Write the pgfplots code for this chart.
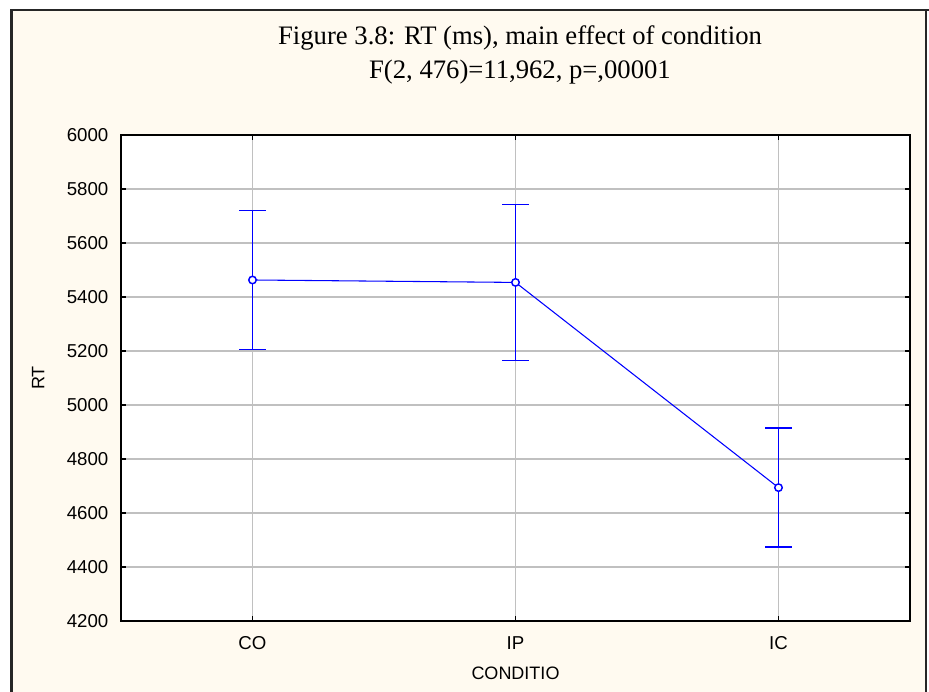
\documentclass[border=0pt]{standalone}
\usepackage{pgfplots}
\pgfplotsset{compat=1.18}
\usepackage{fontspec}
\setmainfont{Liberation Serif}
\setsansfont{Liberation Sans}
\definecolor{cream}{RGB}{255,250,240}
\definecolor{gridgray}{RGB}{192,192,192}
\definecolor{ebblue}{RGB}{0,0,255}
\begin{document}
\begin{tikzpicture}
\useasboundingbox (0pt,0pt) rectangle (696.75pt,519pt);
\fill[white] (0pt,0pt) rectangle (696.75pt,519pt);
\fill[cream] (8.625pt,0pt) rectangle (694.5pt,511.5pt);
\draw[line width=1.6pt,black!85] (8.625pt,-2pt) -- (8.625pt,511.5pt) -- (696.75pt,511.5pt);
\draw[line width=1.6pt,black!85] (694.5pt,-2pt) -- (694.5pt,511.5pt);
\begin{axis}[
  at={(90.75pt,53.25pt)}, anchor=south west,
  scale only axis, width=591.75pt, height=364.5pt,
  xmin=-0.5, xmax=2.5, ymin=4200, ymax=6000,
  xtick={0,1,2}, xticklabels={CO,IP,IC},
  ytick={4200,4400,...,6000},
  grid=major,
  major grid style={gridgray, line width=0.8pt},
  tick align=inside,
  major tick length=4pt,
  tick style={black, line width=0.8pt},
  axis line style={black, line width=0.9pt},
  axis background/.style={fill=white},
  scaled y ticks=false,
  /pgf/number format/assume math mode=true,
  yticklabel={\pgfmathprintnumber[fixed,1000 sep={}]{\tick}},
  ticklabel style={font=\sffamily\fontsize{14}{15}\selectfont},
  xticklabel style={yshift=-8pt},
  yticklabel style={xshift=-6pt},
  label style={font=\sffamily\fontsize{13.5}{15}\selectfont},
  xlabel={CONDITIO},
  ylabel={RT},
  xlabel style={at={(axis description cs:0.5,-0.107)}, anchor=center},
  ylabel style={at={(axis description cs:-0.105,0.5)}, anchor=center},
]
\addplot[ebblue, line width=0.8pt, mark=none,
  error bars/.cd, y dir=both, y explicit,
  error bar style={ebblue, line width=1.1pt},
  error mark options={ebblue, line width=1.1pt, mark size=10pt, rotate=90}]
coordinates {
  (0,5463) +- (0,258)
  (1,5454) +- (0,289)
  (2,4694) +- (0,220)
};
\addplot[ebblue, only marks, mark=*, mark size=2.8pt,
  mark options={fill=white, draw=ebblue, line width=1.1pt}]
coordinates {
  (0,5463)
  (1,5454)
  (2,4694)
};
\end{axis}
\node[font=\fontsize{20}{25.5}\selectfont, align=center] at (390pt,477.75pt) {Figure 3.8: RT (ms), main effect of condition\\F(2, 476)=11,962, p=,00001};
\end{tikzpicture}
\end{document}
